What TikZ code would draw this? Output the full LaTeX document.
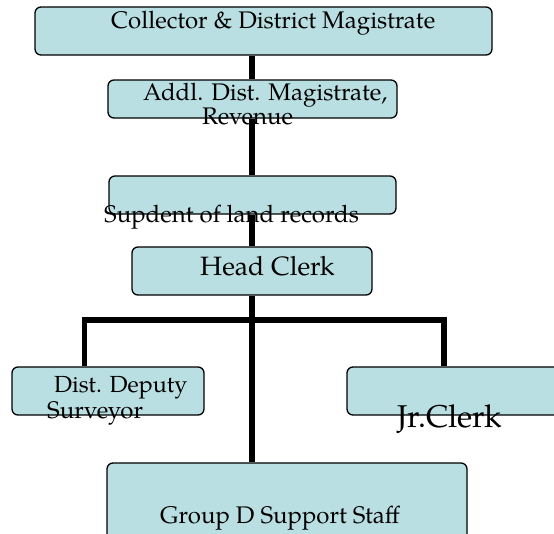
\documentclass[tikz,border=0pt]{standalone}
\usepackage{fontspec}
\setmainfont{texgyrepagella-regular.otf}
\definecolor{boxfill}{RGB}{185,223,226}
\tikzset{
  orgbox/.style={draw=black, line width=1.3pt, fill=boxfill, rounded corners=6pt, inner sep=0pt},
  lbl/.style={anchor=base west, inner sep=0pt, text=black},
  link/.style={line width=5.5pt, line cap=butt}
}
\newcommand{\fs}[1]{\fontsize{#1}{#1}\selectfont}
\begin{document}
\begin{tikzpicture}[x=1pt,y=-1pt]
\useasboundingbox (0,0) rectangle (554,533);
% boxes
\node[orgbox, minimum width=457pt, minimum height=48pt] (b1) at (263.5,31) {};
\node[orgbox, minimum width=289pt, minimum height=38pt] (b2) at (252.5,99) {};
\node[orgbox, minimum width=287pt, minimum height=38pt] (b3) at (252.5,195) {};
\node[orgbox, minimum width=240pt, minimum height=48pt] (b4) at (252,271) {};
\node[orgbox, minimum width=192pt, minimum height=48pt] (b5) at (108,391) {};
\node[orgbox, minimum width=233pt, minimum height=48pt] (b6) at (463.5,391) {};
\node[orgbox, minimum width=360pt, minimum height=80pt] (b7) at (287,503) {};
% connectors
\coordinate (j) at (252,320);
\coordinate (jl) at (84.5,320);
\coordinate (jr) at (444,320);
\draw[link] (b1.south -| j) -- (b2.north -| j);
\draw[link] (b2.south -| j) -- (b3.north -| j);
\draw[link] (b3.south -| j) -- (b4.north -| j);
\draw[link] (b4.south -| j) -- (b7.north -| j);
\draw[link] (b5.north -| jl) -- (jl) -- (jr) -- (b6.north -| jr);
% labels
\node[lbl] (t1) at (111,28) {\fs{24}Collector \& District Magistrate};
\node[lbl] (t2a) at (143,100) {\fs{24}Addl. Dist. Magistrate,};
\node[lbl] (t2b) at (202,124) {\fs{24}Revenue};
\node[lbl] (t3) at (104,222) {\fs{24}Supdent of land records};
\node[lbl] (t4) at (200,275) {\fs{26.5}Head Clerk};
\node[lbl] (t5a) at (54,392) {\fs{23.3}Dist. Deputy};
\node[lbl] (t5b) at (47,418) {\fs{24}Surveyor};
\node[lbl] (t6) at (397,427) {\fs{31.5}Jr.Clerk};
\node[lbl] (t7) at (160,523) {\fs{24}Group D Support Staff};
\end{tikzpicture}
\end{document}
